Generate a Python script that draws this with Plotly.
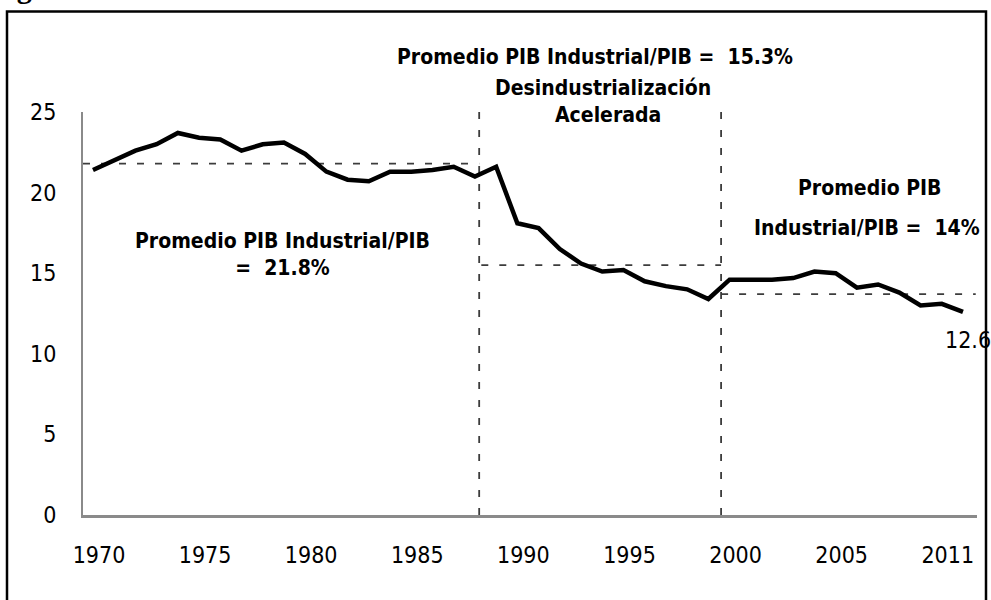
import plotly.graph_objects as go

# ---------------- data ----------------
years = list(range(1970, 2012))
share = [21.4, 22.0, 22.6, 23.0, 23.7, 23.4, 23.3, 22.6, 23.0, 23.1,
         22.4, 21.3, 20.8, 20.7, 21.3, 21.3, 21.4, 21.6, 21.0, 21.6,
         18.1, 17.8, 16.5, 15.6, 15.1, 15.2, 14.5, 14.2, 14.0, 13.4,
         14.6, 14.6, 14.6, 14.7, 15.1, 15.0, 14.1, 14.3, 13.8, 13.0,
         13.1, 12.6]

period_breaks = [1988.2, 1999.6]
avg_levels = [21.8, 15.5, 13.7]
avg_spans = [(1969.53, 1988.2), (1988.3, 1999.6), (1999.6, 2011.6)]

x_tickvals = [1970, 1975, 1980, 1985, 1990, 1995, 2000, 2005, 2010]
x_ticktext = ["1970", "1975", "1980", "1985", "1990", "1995", "2000", "2005", "2011"]
y_tickvals = [0, 5, 10, 15, 20, 25]

title_text = "Figura 1. Colombia: Contribución manufacturera a la actividad económica"

# ---------------- layout geometry ----------------
W, H = 991, 600
ML, MR, MT, MB = 83, 14, 112, 85
PW = W - ML - MR
PH = H - MT - MB


def px(x):
    return (x - ML) / PW


def py(y):
    return (H - MB - y) / PH


NARROW = "Liberation Sans Narrow, Arial Narrow, DejaVu Sans Condensed, sans-serif"

fig = go.Figure()

fig.add_trace(go.Scatter(
    x=years, y=share, mode="lines",
    line=dict(color="black", width=4.5),
    showlegend=False, hoverinfo="x+y",
))

shapes = []
dash_style = dict(color="#3c3c3c", width=1.8, dash="7px,11px")
for (x0, x1), lvl in zip(avg_spans, avg_levels):
    shapes.append(dict(type="line", xref="x", yref="y", x0=x0, x1=x1, y0=lvl, y1=lvl,
                       line=dash_style, layer="below"))
for xb in period_breaks:
    shapes.append(dict(type="line", xref="x", yref="y", x0=xb, x1=xb, y0=0, y1=25.6,
                       line=dash_style, layer="below"))

# outer frame
shapes.append(dict(type="rect", xref="paper", yref="paper",
                   x0=px(7), x1=px(986), y0=py(11.5), y1=py(615),
                   line=dict(color="black", width=2.5), fillcolor="rgba(0,0,0,0)"))

bold = dict(family=NARROW, size=21, color="black")
annotations = [
    dict(text="<b>Promedio PIB Industrial/PIB</b><br><b>=  21.8%</b>", x=px(282), y=py(254),
         font=bold, align="center"),
    dict(text="<b>Promedio PIB Industrial/PIB =  15.3%</b>", x=px(595), y=py(57), font=bold),
    dict(text="<b>Desindustrialización</b>", x=px(603), y=py(88), font=bold),
    dict(text="<b>Acelerada</b>", x=px(608), y=py(115), font=bold),
    dict(text="<b>Promedio PIB</b>", x=px(869), y=py(188), font=bold),
    dict(text="<b>Industrial/PIB =  14%</b>", x=px(867), y=py(228), font=bold),
    dict(text="12.6", x=px(968), y=py(340), font=dict(family=NARROW, size=23, color="black")),
    dict(text="<b>" + title_text + "</b>", x=px(-12), y=py(6.5), xanchor="left", yanchor="bottom",
         font=dict(family="Liberation Serif, Times New Roman, serif", size=30, color="black")),
]
for a in annotations:
    a.setdefault("xref", "paper")
    a.setdefault("yref", "paper")
    a.setdefault("showarrow", False)
    a.setdefault("xanchor", "center")
    a.setdefault("yanchor", "middle")

fig.update_layout(
    width=W, height=H,
    margin=dict(l=ML, r=MR, t=MT, b=MB),
    paper_bgcolor="white", plot_bgcolor="white",
    shapes=shapes, annotations=annotations,
    showlegend=False,
)
fig.update_xaxes(range=[1969.53, 2011.66], tickvals=x_tickvals, ticktext=x_ticktext,
                 showgrid=False, zeroline=False, showline=True, linecolor="#8a8a8a", linewidth=2.5,
                 ticks="", ticklabelstandoff=18, ticklabelshift=6,
                 tickfont=dict(family=NARROW, size=23, color="black"))
fig.update_yaxes(range=[0, 25], tickvals=y_tickvals,
                 showgrid=False, zeroline=False, showline=True, linecolor="#8a8a8a", linewidth=2,
                 ticks="", ticklabelstandoff=20,
                 tickfont=dict(family=NARROW, size=23, color="black"))

fig.write_html("out.html", config={"displayModeBar": False},
               post_script="document.body.style.margin='0';document.body.style.padding='0';")
